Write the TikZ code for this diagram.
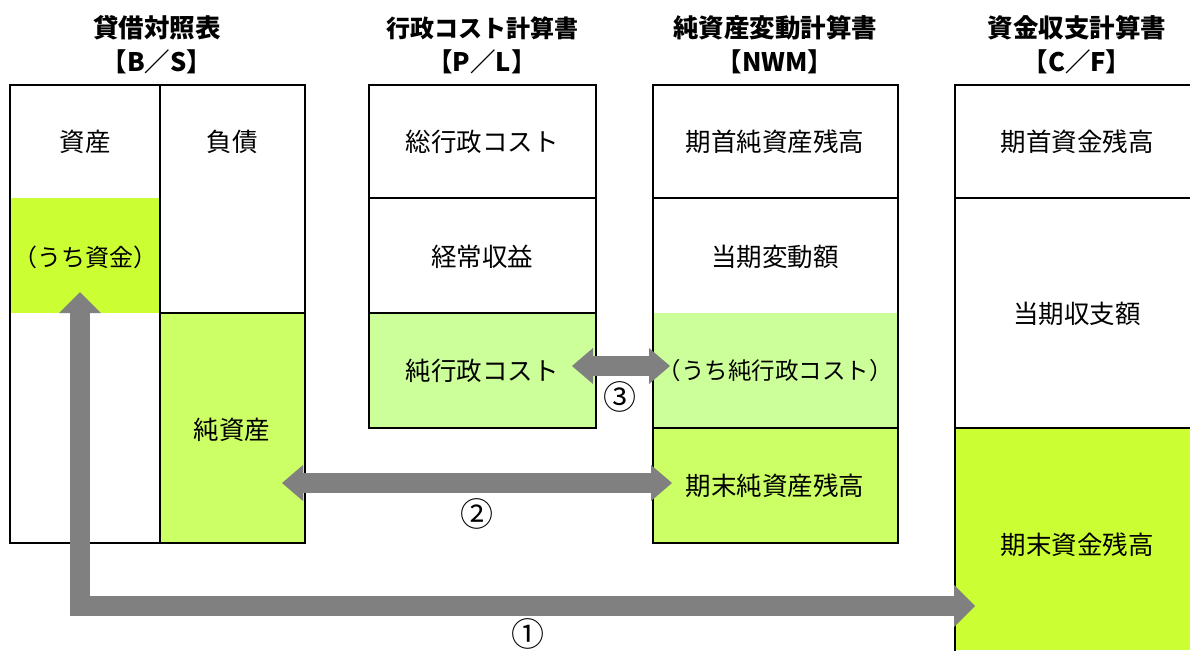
\documentclass[tikz,border=0pt]{standalone}
\usepackage{fontspec}
\setmainfont{Noto Sans CJK JP}
\usetikzlibrary{arrows.meta}
\definecolor{lime}{HTML}{CCFF33}
\definecolor{limeB}{HTML}{CCFF66}
\definecolor{paleg}{HTML}{CCFF99}
\definecolor{arrowgray}{HTML}{808080}
\tikzset{
  cell/.style={draw=none, inner sep=0pt, font=\fontsize{25.5pt}{30pt}\selectfont},
  title/.style={inner sep=0pt, font=\fontsize{25.5pt}{30pt}\selectfont\bfseries},
  border/.style={line width=2pt, line cap=rect},
  tipA/.tip={Triangle[length=21pt,width=42pt,line width=0pt]},
  tipB/.tip={Triangle[length=21pt,width=36pt,line width=0pt]},
  bigarrow/.style={draw=arrowgray, line width=20pt, line join=miter},
  numlabel/.style={inner sep=0pt, font=\fontsize{33pt}{36pt}\selectfont}
}
\begin{document}
\begin{tikzpicture}[x=1pt,y=-1pt]
\useasboundingbox (0,0) rectangle (1190,650);
\fill[white] (0,0) rectangle (1190,650);
% ---------- B/S ----------
\node[title] (tBS1) at (157,28) {貸借対照表};
\node[title] (tBS2) at (157,62) {【B／S】};
\fill[lime] (10,198) rectangle (160,313);
\fill[limeB] (160,313) rectangle (305,543);
\node[cell] (bsA) at (85,142) {資産};
\node[cell] (bsL) at (232,142) {負債};
\node[cell, font=\fontsize{24pt}{28pt}\selectfont] (bsC) at (85,257) {（うち資金）};
\node[cell] (bsN) at (232,430) {純資産};
\draw[border] (10,85) rectangle (305,543);
\draw[border] (160,85) -- (160,543);
\draw[border] (160,313) -- (305,313);
% ---------- P/L ----------
\node[title, font=\fontsize{24pt}{30pt}\selectfont\bfseries] (tPL1) at (482,28) {行政コスト計算書};
\node[title] (tPL2) at (482,62) {【P／L】};
\fill[paleg] (369,313) rectangle (596,428);
\node[cell] (plT) at (482,142) {総行政コスト};
\node[cell] (plR) at (482,257) {経常収益};
\node[cell] (plN) at (482,371) {純行政コスト};
\draw[border] (369,85) rectangle (596,428);
\draw[border] (369,198) -- (596,198);
\draw[border] (369,313) -- (596,313);
% ---------- NWM ----------
\node[title] (tNW1) at (775,28) {純資産変動計算書};
\node[title] (tNW2) at (775,62) {【NWM】};
\fill[paleg] (653,313) rectangle (898,428);
\fill[limeB] (653,428) rectangle (898,543);
\node[cell] (nwB) at (775,142) {期首純資産残高};
\node[cell] (nwC) at (775,257) {当期変動額};
\node[cell, font=\fontsize{23.5pt}{28pt}\selectfont] (nwN) at (775,371) {（うち純行政コスト）};
\node[cell] (nwE) at (775,486) {期末純資産残高};
\draw[border] (653,85) rectangle (898,543);
\draw[border] (653,198) -- (898,198);
\draw[border] (653,428) -- (898,428);
% ---------- C/F ----------
\node[title] (tCF1) at (1077,28) {資金収支計算書};
\node[title] (tCF2) at (1077,62) {【C／F】};
\fill[lime] (955,428) rectangle (1190,650);
\node[cell] (cfB) at (1077,142) {期首資金残高};
\node[cell] (cfC) at (1077,314) {当期収支額};
\node[cell] (cfE) at (1077,545) {期末資金残高};
\draw[border] (955,650) -- (955,85) -- (1192,85);
\draw[border] (955,198) -- (1192,198);
\draw[border] (955,428) -- (1192,428);
% ---------- arrows ----------
\coordinate (a1s) at (80,292);
\coordinate (a1c) at (80,606);
\coordinate (a1e) at (975,606);
\draw[bigarrow, tipA-tipA] (a1s) -- (a1c) -- (a1e);
\coordinate (a2s) at (282,483);
\coordinate (a2e) at (672,483);
\draw[bigarrow, tipB-tipB] (a2s) -- (a2e);
\coordinate (a3s) at (572,366);
\coordinate (a3e) at (670,366);
\draw[bigarrow, tipB-tipB] (a3s) -- (a3e);
\node[numlabel] (n1) at (528,634) {①};
\node[numlabel] (n2) at (477,514) {②};
\node[numlabel] (n3) at (620,397) {③};
\end{tikzpicture}
\end{document}
